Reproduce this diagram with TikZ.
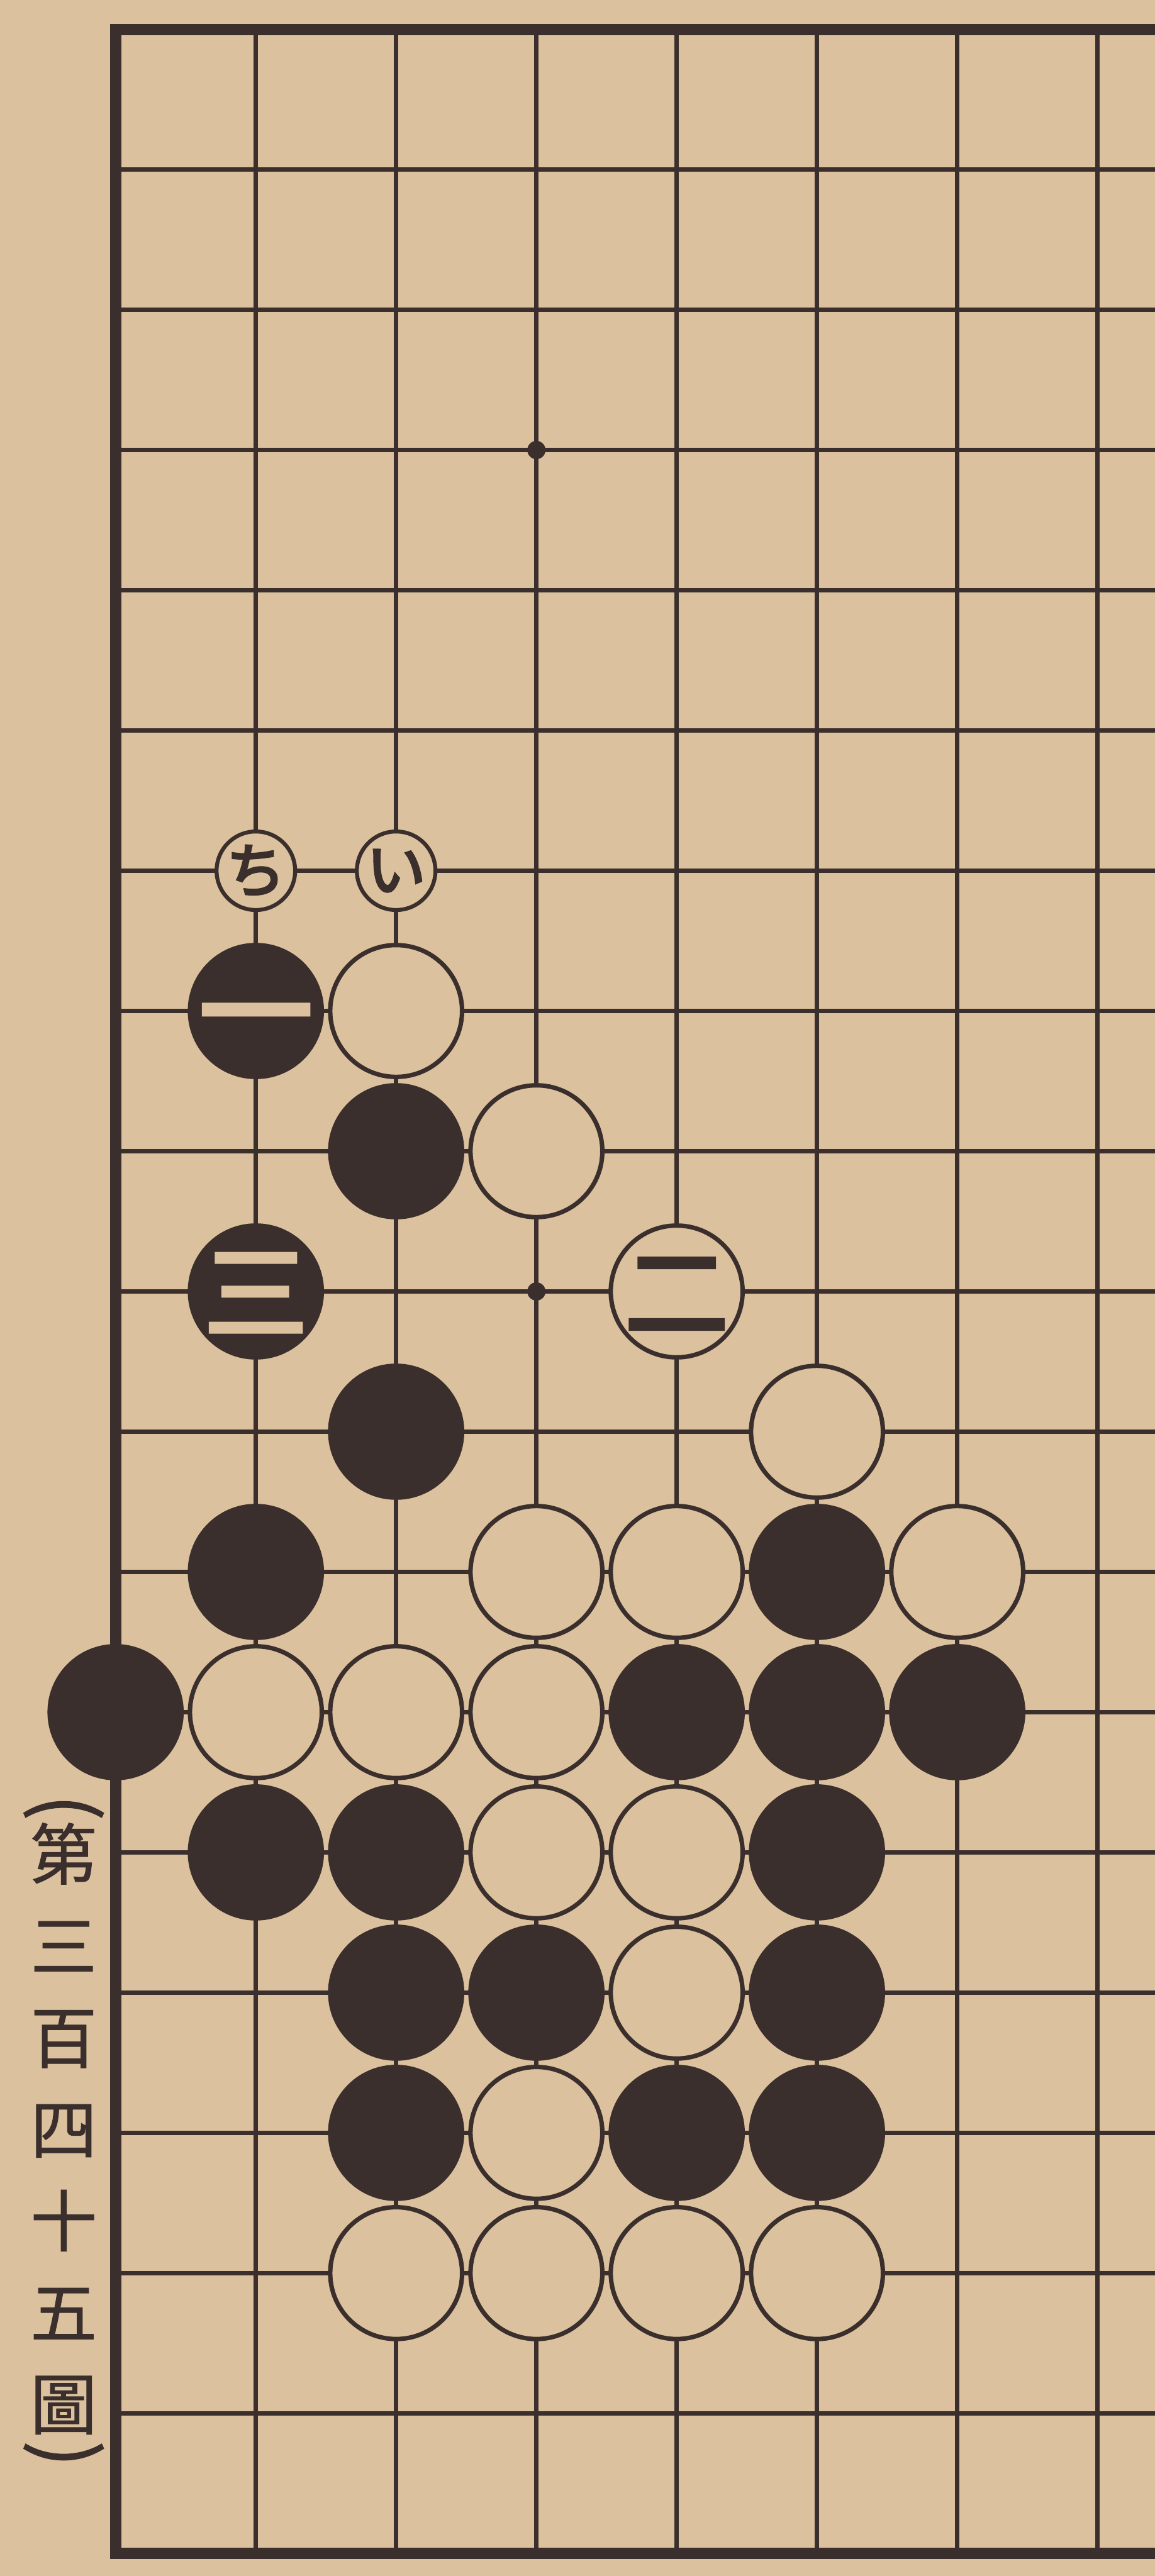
\documentclass[tikz,border=0pt]{standalone}
\usepackage{fontspec}
\usepackage{tikz}
\newfontfamily\jpfont[FakeBold=1]{Noto Sans CJK JP}
\newfontfamily\jpbold[FakeBold=4]{Noto Sans CJK JP}
\definecolor{paperColor}{HTML}{DCC19E}
\definecolor{inkColor}{HTML}{3A2F2C}

\begin{document}
\begin{tikzpicture}[
    stone/.style={circle, minimum size=0.94cm, inner sep=0pt, line width=0.9pt,
        draw=inkColor},
    blackstone/.style={stone, fill=inkColor},
    whitestone/.style={stone, fill=paperColor},
    movetext/.style={inner sep=0pt, text height=20.2pt, text depth=2.8pt,
        font=\jpbold\fontsize{23}{23}\selectfont},
    movetextsmall/.style={inner sep=0pt, text height=18.5pt, text depth=2.5pt,
        font=\jpbold\fontsize{21}{21}\selectfont},
    marker/.style={circle, minimum size=0.56cm, inner sep=0pt, line width=0.8pt,
        draw=inkColor, fill=paperColor, text=inkColor,
        font=\jpbold\fontsize{12}{12}\selectfont},
    caption/.style={text=inkColor, font=\jpfont\fontsize{13.5}{18.6}\selectfont,
        align=center, inner sep=0pt}
]
    \fill[paperColor] (-0.824,0.209) rectangle (7.408,-18.16);
    \useasboundingbox (-0.824,0.209) rectangle (7.408,-18.16);
    % grid
    \foreach \r in {1,...,17}
        \draw[inkColor, line width=0.9pt] (0,-\r) -- (7.5,-\r);
    \foreach \c in {1,...,7}
        \draw[inkColor, line width=0.9pt] (\c,0) -- (\c,-18);
    % edges
    \draw[inkColor, line width=2.3pt] (7.5,0) -- (0,0) -- (0,-18) -- (7.5,-18);
    % star points
    \fill[inkColor] (3,-3) circle (0.065);
    \fill[inkColor] (3,-9) circle (0.065);

    % marks
    \node[marker] (chi) at (1,-6) {ち};
    \node[marker] (i) at (2,-6) {い};

    % black stones
    \foreach \c/\r in {2/8, 2/10, 1/11, 5/11, 0/12, 4/12, 5/12, 6/12,
            1/13, 2/13, 5/13, 2/14, 3/14, 5/14, 2/15, 4/15, 5/15}
        \node[blackstone] (b-\c-\r) at (\c,-\r) {};
    % white stones
    \foreach \c/\r in {2/7, 3/8, 5/10, 3/11, 4/11, 6/11, 1/12, 2/12, 3/12,
            3/13, 4/13, 4/14, 3/15, 2/16, 3/16, 4/16, 5/16}
        \node[whitestone] (w-\c-\r) at (\c,-\r) {};

    % numbered moves
    \node[blackstone, label={[movetext, text=paperColor]center:一}] (move1) at (1,-7) {};
    \node[whitestone, label={[movetextsmall, text=inkColor]center:二}] (move2) at (4,-9) {};
    \node[blackstone, label={[movetextsmall, text=paperColor]center:三}] (move3) at (1,-9) {};

    % figure number
    \node[caption, font=\jpfont\fontsize{16}{16}\selectfont, rotate=-90]
        (lparen) at (-0.37,-12.68) {(};
    \node[caption] (figno) at (-0.37,-14.97) {第\\三\\百\\四\\十\\五\\圖};
    \node[caption, font=\jpfont\fontsize{16}{16}\selectfont, rotate=-90]
        (rparen) at (-0.37,-17.29) {)};
\end{tikzpicture}
\end{document}
